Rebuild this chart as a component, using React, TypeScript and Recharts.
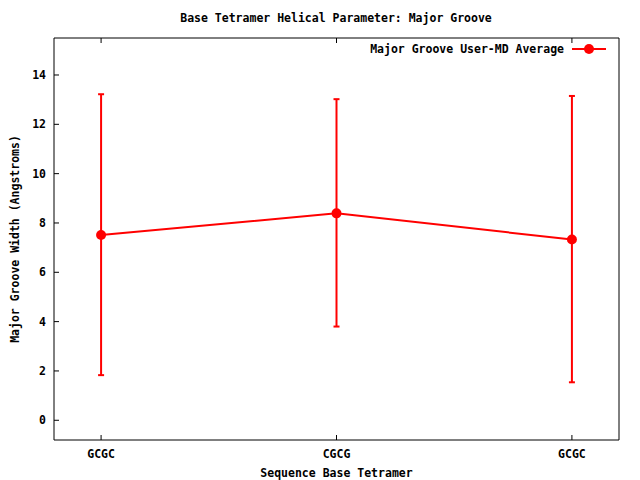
import { LineChart, Line, XAxis, YAxis, ErrorBar, Legend } from "recharts";

const categories = ["GCGC", "CGCG", "GCGC"];
const averages = [7.51, 8.39, 7.33];
const lows = [1.83, 3.8, 1.54];
const highs = [13.22, 13.02, 13.15];
const yTicks = [0, 2, 4, 6, 8, 10, 12, 14];
const xTicks = [0, 1, 2];

const data = categories.map((name, i) => ({
  x: i,
  name,
  avg: averages[i],
  err: [averages[i] - lows[i], highs[i] - averages[i]],
}));

const FONT = "'DejaVu Sans Mono', 'Liberation Mono', monospace";
const RED = "#ff0000";
const tickStyle = { fill: "#000", fontSize: 11.5, fontFamily: FONT, fontWeight: "bold" };

const YLabel = (props: any) => {
  const vb = props.viewBox || { x: 0, y: 38, width: 54, height: 402 };
  const cx = vb.x + 15;
  const cy = vb.y + vb.height / 2;
  return (
    <text
      x={cx}
      y={cy}
      transform={`rotate(-90, ${cx}, ${cy})`}
      textAnchor="middle"
      dominantBaseline="central"
      style={tickStyle}
    >
      Major Groove Width (Angstroms)
    </text>
  );
};

const LegendBox = () => (
  <div
    style={{
      display: "flex",
      alignItems: "center",
      justifyContent: "flex-end",
      fontFamily: FONT,
      fontWeight: "bold",
      fontSize: 11.5,
      lineHeight: "14px",
    }}
  >
    <span>Major Groove User-MD Average</span>
    <svg width={34} height={12} style={{ marginLeft: 8 }}>
      <line x1={0} y1={6} x2={34} y2={6} stroke={RED} strokeWidth={2} />
      <circle cx={17} cy={6} r={5} fill={RED} />
    </svg>
  </div>
);

const App = () => {
  return (
    <div style={{ position: "absolute", left: 0, top: 0, width: 640, height: 480, background: "#fff" }}>
      <div
        style={{
          position: "absolute",
          left: 336,
          top: 11,
          transform: "translateX(-50%)",
          whiteSpace: "nowrap",
          fontFamily: FONT,
          fontWeight: "bold",
          fontSize: 11.5,
          lineHeight: "14px",
        }}
      >
        Base Tetramer Helical Parameter: Major Groove
      </div>
      <LineChart width={640} height={480} data={data} margin={{ top: 37, right: 20, bottom: 0, left: 0 }}>
        <XAxis
          xAxisId="bottom"
          dataKey="x"
          type="number"
          domain={[-0.2, 2.2]}
          ticks={xTicks}
          tickFormatter={(v: number) => categories[v]}
          height={40}
          stroke="#000"
          tickSize={-5}
          tickMargin={15}
          tick={tickStyle}
          label={{
            value: "Sequence Base Tetramer",
            position: "insideBottom",
            offset: 3,
            style: tickStyle,
          }}
        />
        <XAxis
          xAxisId="top"
          orientation="top"
          dataKey="x"
          type="number"
          domain={[-0.2, 2.2]}
          ticks={xTicks}
          tickFormatter={() => ""}
          height={1}
          stroke="#000"
          tickSize={-5}
        />
        <YAxis
          yAxisId="left"
          type="number"
          domain={[-0.8, 15.5]}
          ticks={yTicks}
          width={54}
          stroke="#000"
          tickSize={-5}
          tickMargin={13}
          tick={tickStyle}
          label={<YLabel />}
        />
        <YAxis
          yAxisId="right"
          orientation="right"
          type="number"
          domain={[-0.8, 15.5]}
          ticks={yTicks}
          tickFormatter={() => ""}
          width={1}
          stroke="#000"
          tickSize={-5}
        />
        <Legend
          layout="horizontal"
          verticalAlign="middle"
          align="center"
          wrapperStyle={{ top: 42, right: 34, width: 400 }}
          content={() => <LegendBox />}
        />
        <Line
          xAxisId="bottom"
          yAxisId="left"
          type="linear"
          dataKey="avg"
          name="Major Groove User-MD Average"
          stroke={RED}
          strokeWidth={2}
          dot={{ r: 5, fill: RED, stroke: RED, strokeWidth: 0 }}
          activeDot={false}
          isAnimationActive={false}
        >
          <ErrorBar dataKey="err" direction="y" width={3} stroke={RED} strokeWidth={2} />
        </Line>
      </LineChart>
    </div>
  );
};

export default App;
